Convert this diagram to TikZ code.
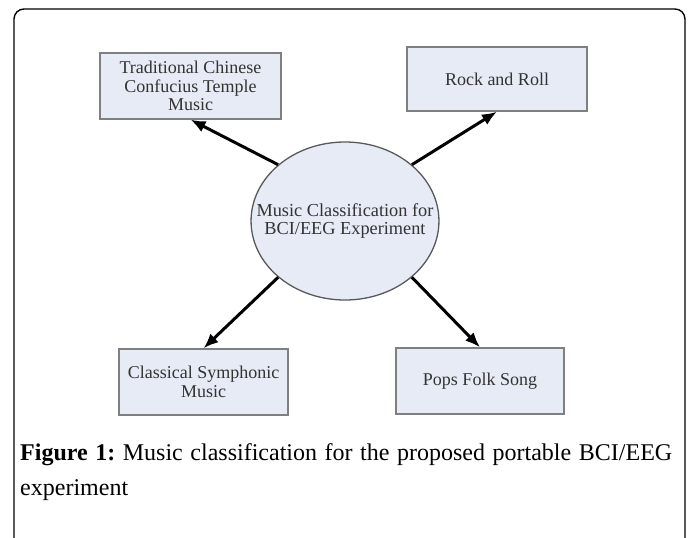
\documentclass[tikz,border=0pt]{standalone}
\usepackage{fontspec}
\setmainfont{Liberation Serif}
\usepackage{xcolor}
\usepackage{tikz}
\usetikzlibrary{arrows.meta,shapes.geometric}
\definecolor{boxfill}{HTML}{E6EBF5}
\definecolor{boxline}{HTML}{7F7F7F}
\definecolor{boxtext}{HTML}{333333}
\tikzstyle{genre}=[draw=boxline,line width=1.3pt,fill=boxfill,text=boxtext,inner sep=0pt,align=center,font=\fontsize{18}{18.5}\selectfont]
\tikzset{>={Latex[length=15pt,width=12pt]}}

\begin{document}
\begin{tikzpicture}[x=1pt,y=-1pt,link/.style={->,line width=3pt}]
      \useasboundingbox (0,0) rectangle (691,538);
      \draw[line width=1.4pt,rounded corners=10pt] (14,538) -- (14,9) -- (685,9) -- (685,538);
      \node[genre,minimum width=181pt,minimum height=66pt] (tcm) at (190.5,86) {Traditional Chinese\\Confucius Temple\\Music};
      \node[genre,minimum width=180pt,minimum height=64pt] (rock) at (497,79) {Rock and Roll};
      \node[genre,minimum width=169pt,minimum height=66pt] (classic) at (203.5,382) {Classical Symphonic\\Music};
      \node[genre,minimum width=168pt,minimum height=66pt] (pops) at (480,381) {Pops Folk Song};
      \node[genre,ellipse,draw=boxline!70!black,inner xsep=-22pt,minimum width=186pt,minimum height=158pt,font=\fontsize{18.3}{18}\selectfont] (music) at (345,221) {Music Classification for\\BCI/EEG Experiment};
      \draw[link] (music.north west) -- (tcm.south);
      \draw[link] (music.north east) -- (rock.south);
      \draw[link] (music.south west) -- (classic.north);
      \draw[link] (music.south east) -- (pops.north);
      \node[anchor=north west,inner sep=0pt,text width=652pt,align=justify,font=\fontsize{24}{35}\selectfont\frenchspacing] (caption) at (20,443)
        {\textbf{Figure 1:} Music classification for the proposed portable BCI/EEG\linebreak experiment};
    \end{tikzpicture}
\end{document}
